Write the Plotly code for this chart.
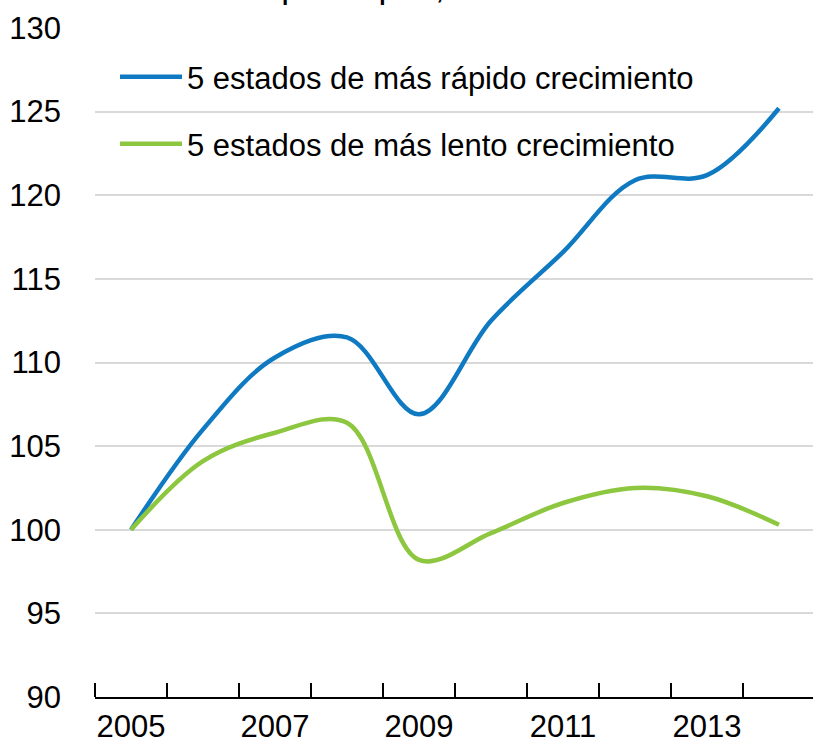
import plotly.graph_objects as go

years = [2005, 2006, 2007, 2008, 2009, 2010, 2011, 2012, 2013, 2014]
fast_growth = [100.0, 106.0, 110.3, 111.5, 106.9, 112.5, 116.6, 120.9, 121.2, 125.2]
slow_growth = [100.0, 104.1, 105.8, 106.4, 98.2, 99.8, 101.6, 102.5, 102.0, 100.3]
tick_years = [2005, 2007, 2009, 2011, 2013]
tick_labels = ["2005", "2007", "2009", "2011", "2013"]
y_ticks = [90, 95, 100, 105, 110, 115, 120, 125, 130]
name_fast = "5 estados de más rápido crecimiento"
name_slow = "5 estados de más lento crecimiento"
title_text = "PIB real per cápita, 2005 = 100"

FONT = "Liberation Sans, Arial, sans-serif"
FS = 31
BLUE = "#0f7ac2"
GREEN = "#8dc63f"

W, HT = 813, 747

fig = go.Figure()
fig.add_trace(go.Scatter(x=years, y=fast_growth, mode="lines", name=name_fast,
                         line=dict(color=BLUE, width=4.5, shape="spline", smoothing=1.0),
                         legend="legend", showlegend=True))
fig.add_trace(go.Scatter(x=years, y=slow_growth, mode="lines", name=name_slow,
                         line=dict(color=GREEN, width=4.5, shape="spline", smoothing=1.0),
                         legend="legend2", showlegend=True))

boundaries = [y - 0.5 for y in years] + [years[-1] + 0.5]

# pixel geometry of plot area
left_px, right_px, top_px, bottom_px = 95, 813, 28, 697
H = bottom_px - top_px
PW = right_px - left_px

def py(p):
    return (bottom_px - p) / H

def px(p):
    return (p - left_px) / PW

fig.update_layout(
    width=W, height=HT,
    showlegend=True,
    margin=dict(l=left_px, r=W - right_px, t=top_px, b=HT - bottom_px,
                pad=0, autoexpand=False),
    paper_bgcolor="white", plot_bgcolor="white",
    font=dict(family=FONT, size=FS, color="black"),
    xaxis=dict(range=[2004.5, 2004.5 + PW / 72], tickmode="array", tickvals=tick_years,
               ticktext=tick_labels, ticks="", showgrid=False, zeroline=False,
               showline=True, linecolor="black", linewidth=1.5, automargin=False,
               tickfont=dict(family=FONT, size=FS), ticklabelstandoff=1,
               minor=dict(tickmode="array", tickvals=boundaries, ticks="inside",
                          ticklen=14, tickcolor="black", tickwidth=1.5, showgrid=False)),
    yaxis=dict(range=[90, 130], tickmode="array", tickvals=y_ticks, ticks="",
               showgrid=True, gridcolor="#d9d9d9", gridwidth=1.5, zeroline=False,
               showline=False, automargin=False,
               tickfont=dict(family=FONT, size=FS), ticklabelstandoff=33),
    legend=dict(x=px(115), y=py(77), xanchor="left", yanchor="middle",
                bgcolor="rgba(0,0,0,0)", itemwidth=62, font=dict(family=FONT, size=FS)),
    legend2=dict(x=px(115), y=py(144), xanchor="left", yanchor="middle",
                 bgcolor="rgba(0,0,0,0)", itemwidth=62, font=dict(family=FONT, size=FS)),
    annotations=[dict(text=title_text, xref="paper", yref="paper", x=px(145),
                      y=py(7), xanchor="left", yanchor="bottom", showarrow=False,
                      font=dict(family=FONT, size=35, color="black"))],
)

fig.write_html("out.html",
               config={"displayModeBar": False},
               post_script="document.body.style.margin='0';"
                           "document.body.style.overflow='hidden';")
